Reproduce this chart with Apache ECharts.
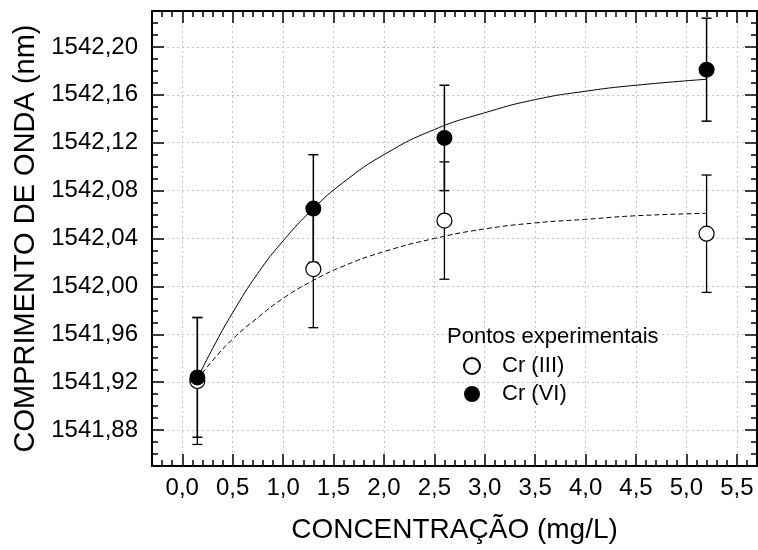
<!DOCTYPE html>
<html>
<head>
<meta charset="utf-8">
<script src="https://cdn.jsdelivr.net/npm/echarts@6/dist/echarts.min.js"></script>
<style>
html,body{margin:0;padding:0;background:#fff;}
#chart{width:758px;height:550px;}
</style>
</head>
<body>
<div id="chart"></div>
<script>
// ---- data ----
var concentration = [0.15, 1.3, 2.6, 5.2];
var cr3Values = [1541.921, 1542.0145, 1542.055, 1542.044];
var cr3Errors = [0.053, 0.049, 0.049, 0.049];
var cr6Values = [1541.924, 1542.065, 1542.124, 1542.181];
var cr6Errors = [0.050, 0.045, 0.044, 0.043];

var fitX = [0.15, 0.3, 0.5, 0.75, 1.0, 1.3, 1.6, 2.0, 2.5, 3.0, 3.5, 4.0, 4.5, 5.2];
var fitCr6 = [1541.923, 1541.948, 1541.978, 1542.011, 1542.038, 1542.065, 1542.087, 1542.110, 1542.131, 1542.145, 1542.156, 1542.163, 1542.168, 1542.173];
var fitCr3 = [1541.922, 1541.938, 1541.956, 1541.974, 1541.990, 1542.005, 1542.017, 1542.029, 1542.040, 1542.048, 1542.053, 1542.056, 1542.059, 1542.061];

var xTicks = [0, 0.5, 1.0, 1.5, 2.0, 2.5, 3.0, 3.5, 4.0, 4.5, 5.0, 5.5];
var yTicks = [1541.88, 1541.92, 1541.96, 1542.00, 1542.04, 1542.08, 1542.12, 1542.16, 1542.20];

var xTitle = 'CONCENTRAÇÃO (mg/L)';
var yTitle = 'COMPRIMENTO DE ONDA (nm)';
var legendTitle = 'Pontos experimentais';
var nameCr3 = 'Cr (III)';
var nameCr6 = 'Cr (VI)';

// ---- build ----
var FONT = "'Liberation Sans', Arial, sans-serif";
var X_MIN = -0.3, X_MAX = 5.7, Y_MIN = 1541.85, Y_MAX = 1542.23;

function zip(a, b, c) {
  return a.map(function (v, i) { return c ? [v, b[i], c[i]] : [v, b[i]]; });
}

function minorAxis(pos) {
  var isX = pos === 'bottom' || pos === 'top';
  return {
    type: 'value', position: pos,
    min: isX ? X_MIN : Y_MIN,
    max: isX ? X_MAX : Y_MAX,
    interval: isX ? 0.1 : 0.01,
    axisLine: { show: true, onZero: false, lineStyle: { color: '#000', width: 2 } },
    axisTick: { show: true, inside: true, length: 6, lineStyle: { color: '#000', width: 1.5 } },
    axisLabel: { show: false },
    splitLine: { show: false }
  };
}
function majorAxis(pos, showLabel) {
  var isX = pos === 'bottom' || pos === 'top';
  var ticks = isX ? xTicks : yTicks;
  return {
    type: 'value', position: pos,
    min: isX ? X_MIN : Y_MIN,
    max: isX ? X_MAX : Y_MAX,
    axisLine: { show: false, onZero: false },
    axisTick: { show: true, inside: true, length: 12, customValues: ticks, lineStyle: { color: '#000', width: 1.5 } },
    axisLabel: {
      show: showLabel, customValues: ticks, color: '#000', fontSize: 24, fontFamily: FONT,
      margin: isX ? 10 : 14,
      formatter: function (v) { return v.toFixed(isX ? 1 : 2).replace('.', ','); }
    },
    splitLine: { show: showLabel, lineStyle: { color: '#c4c4c4', width: 1, type: [2, 3] } },
    name: showLabel ? (isX ? xTitle : yTitle) : '',
    nameLocation: 'middle',
    nameGap: isX ? 50 : 108,
    nameTextStyle: { color: '#000', fontSize: isX ? 28 : 29, fontFamily: FONT }
  };
}

var errorRender = function (lw) {
  return function (params, api) {
    var x = api.value(0), y = api.value(1), e = api.value(2);
    var t = api.coord([x, y + e]), b = api.coord([x, y - e]);
    var hw = 5;
    var st = { stroke: '#000', lineWidth: lw };
    return {
      type: 'group', children: [
        { type: 'line', shape: { x1: t[0], y1: t[1], x2: b[0], y2: b[1] }, style: st },
        { type: 'line', shape: { x1: t[0] - hw, y1: t[1], x2: t[0] + hw, y2: t[1] }, style: st },
        { type: 'line', shape: { x1: b[0] - hw, y1: b[1], x2: b[0] + hw, y2: b[1] }, style: st }
      ]
    };
  };
};

var chart = echarts.init(document.getElementById('chart'), null, { renderer: 'canvas' });
chart.setOption({
  animation: false,
  backgroundColor: '#fff',
  textStyle: { fontFamily: FONT },
  grid: { left: 152, right: 1, top: 11, bottom: 84, containLabel: false },
  title: {
    text: legendTitle, left: 447, top: 326, padding: 0,
    textStyle: { fontSize: 22, fontWeight: 'normal', color: '#000', fontFamily: FONT, lineHeight: 22 }
  },
  legend: {
    data: [nameCr3, nameCr6], orient: 'vertical', left: 463, top: 355, padding: 0,
    itemWidth: 16, itemHeight: 16, itemGap: 6, icon: 'circle', selectedMode: false,
    textStyle: { fontSize: 22, color: '#000', fontFamily: FONT, lineHeight: 22, padding: [0, 0, 0, 17] }
  },
  xAxis: [minorAxis('bottom'), majorAxis('bottom', true), minorAxis('top'), majorAxis('top', false)],
  yAxis: [minorAxis('left'), majorAxis('left', true), minorAxis('right'), majorAxis('right', false)],
  series: [
    {
      type: 'line', name: 'fit6', data: zip(fitX, fitCr6), smooth: true, showSymbol: false,
      lineStyle: { color: '#000', width: 1 }, z: 3
    },
    {
      type: 'line', name: 'fit3', data: zip(fitX, fitCr3), smooth: true, showSymbol: false,
      lineStyle: { color: '#000', width: 1, type: [5, 3] }, z: 3
    },
    {
      type: 'custom', name: 'err3', data: zip(concentration, cr3Values, cr3Errors),
      renderItem: errorRender(1.3), encode: { x: 0, y: 1 }, z: 4
    },
    {
      type: 'custom', name: 'err6', data: zip(concentration, cr6Values, cr6Errors),
      renderItem: errorRender(1.5), encode: { x: 0, y: 1 }, z: 4
    },
    {
      type: 'scatter', name: nameCr3, data: zip(concentration, cr3Values), symbol: 'circle', symbolSize: 15,
      itemStyle: { color: '#fff', borderColor: '#000', borderWidth: 1.2, opacity: 1 }, z: 5
    },
    {
      type: 'scatter', name: nameCr6, data: zip(concentration, cr6Values), symbol: 'circle', symbolSize: 16,
      itemStyle: { color: '#000', opacity: 1 }, z: 6
    }
  ]
});
</script>
</body>
</html>
